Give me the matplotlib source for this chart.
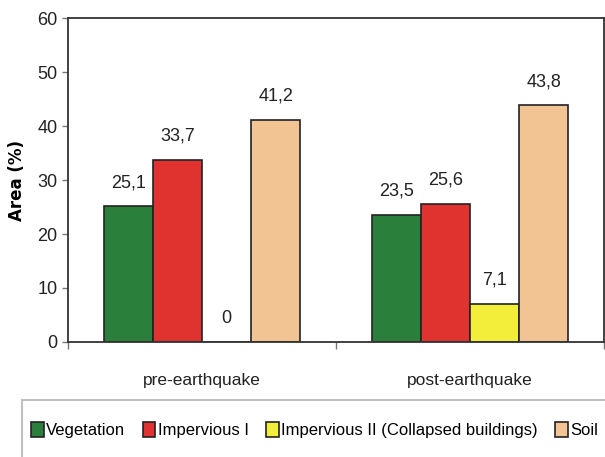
import matplotlib
matplotlib.use("Agg")
import matplotlib.pyplot as plt
import numpy as np
from matplotlib.patches import Patch, Rectangle

categories = ["pre-earthquake", "post-earthquake"]
series = ["Vegetation", "Impervious I", "Impervious II (Collapsed buildings)", "Soil"]
vegetation = [25.1, 23.5]
impervious1 = [33.7, 25.6]
impervious2 = [0, 7.1]
soil = [41.2, 43.8]
labels_text = [["25,1", "23,5"], ["33,7", "25,6"], ["0", "7,1"], ["41,2", "43,8"]]
colors = ["#2a7f3a", "#e0332f", "#f2ee3a", "#f2c494"]

plt.rcParams['font.family'] = ["Liberation Sans", 'DejaVu Sans']

fig = plt.figure(figsize=(6.05, 4.57), dpi=100)
ax = fig.add_axes([68/605, 1-342/457, (604-68)/605, (342-18)/457])

data = [vegetation, impervious1, impervious2, soil]
x = np.arange(len(categories))
w = 0.183
for i, vals in enumerate(data):
    pos = x + (i - 1.5) * w
    bars = ax.bar(pos, vals, width=w, color=colors[i], edgecolor="#222222", linewidth=1.2)
    for b, v, t in zip(bars, vals, labels_text[i]):
        ax.annotate(t, (b.get_x() + b.get_width()/2, v), xytext=(0, 11),
                    textcoords="offset points", ha="center", va="bottom",
                    fontsize=13, color="#222222")

ax.set_xlim(-0.5, 1.5)
ax.set_ylim(0, 60)
ax.set_yticks(range(0, 61, 10))
ax.set_xticks(x)
ax.set_xticklabels(categories, fontsize=12.5)
ax.set_xticks([-0.5, 0.5, 1.5], minor=True)
ax.tick_params(axis="x", which="major", length=0, pad=22, colors="#222222")
ax.tick_params(axis="x", which="minor", length=5, width=1, color="#777777")
ax.tick_params(axis="y", length=4, width=1, labelsize=13, colors="#222222", color="#777777")
ax.set_ylabel("Area (%)", fontsize=12, fontweight="bold", labelpad=8, family="DejaVu Sans")
for s in ax.spines.values():
    s.set_color("#333333")
    s.set_linewidth(1.3)

fig.patches.append(Rectangle((22/605, -0.05), 0.99, 1-400/457 + 0.05, transform=fig.transFigure,
                             facecolor="none", edgecolor="#c0c0c0", linewidth=1.5, clip_on=False))

handles = [Patch(facecolor=c, edgecolor="#222222", linewidth=1.2) for c in colors]
leg = fig.legend(handles, series, loc="center left", bbox_to_anchor=(31/605, 1-430/457),
                 ncol=4, fontsize=12, frameon=False, handlelength=0.75,
                 handleheight=1.0, handletextpad=0.15, columnspacing=1.05,
                 borderpad=0.0, borderaxespad=0.0)

fig.savefig("out.png", dpi=100)
